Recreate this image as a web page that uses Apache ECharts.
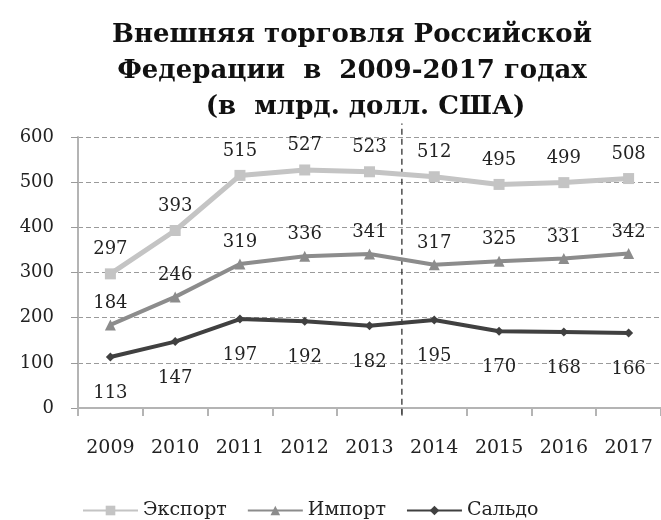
<!DOCTYPE html>
<html>
<head>
<meta charset="utf-8">
<script src="https://cdn.jsdelivr.net/npm/echarts@6/dist/echarts.min.js"></script>
<style>
	html, body {margin:0; padding:0; background:#fff;}
	#chart {width:661px; height:520px;}
</style>
</head>
<body>
<div id="chart"></div>
<script>
var years = ['2009', '2010', '2011', '2012', '2013', '2014', '2015', '2016', '2017'];
var exportVals = [297, 393, 515, 527, 523, 512, 495, 499, 508];
var importVals = [184, 246, 319, 336, 341, 317, 325, 331, 342];
var saldoVals = [113, 147, 197, 192, 182, 195, 170, 168, 166];
var yTicks = [0, 100, 200, 300, 400, 500, 600];
// divider between 2013 and 2014 (x in category units, y in value units)
var dividerPts = [[4.5, -15], [4.5, 630]];

var serifFont = 'DejaVu Serif';

var chart = echarts.init(document.getElementById('chart'));

function lineSeries(name, vals, color, width, symbol, size, pos, dist){
	return {
		name: name,
		type: 'line',
		data: vals,
		symbol: symbol,
		symbolSize: size,
		lineStyle: {color: color, width: width},
		itemStyle: {color: color},
		label: {
			show: true,
			position: pos,
			distance: dist,
			fontFamily: serifFont,
			fontSize: 18,
			color: '#222'
		},
		z: 3
	};
}

var option = {
	animation: false,
	backgroundColor: '#fff',
	title: {
		text: 'Внешняя торговля Российской\nФедерации  в  2009-2017 годах\n   (в  млрд. долл. США)',
		left: 352,
		textAlign: 'center',
		top: 17,
		padding: 0,
		textStyle: {
			fontFamily: serifFont,
			fontWeight: 'bold',
			fontSize: 26,
			lineHeight: 36,
			color: '#111'
		}
	},
	grid: {left: 78, right: -2, top: 137, bottom: 112},
	legend: {
		left: 77,
		top: 496,
		itemWidth: 55,
		itemHeight: 12,
		itemGap: 20,
		textStyle: {fontFamily: serifFont, fontSize: 19, color: '#222'},
		data: ['Экспорт', 'Импорт', 'Сальдо']
	},
	xAxis: [
		{
			type: 'category',
			data: years,
			boundaryGap: true,
			axisLine: {lineStyle: {color: '#b4b4b4', width: 2}},
			axisTick: {show: true, length: 8, lineStyle: {color: '#b4b4b4', width: 2}},
			axisLabel: {fontFamily: serifFont, fontSize: 19, color: '#222', margin: 31}
		},
		{
			// helper axis for the divider, same bands as the category axis
			type: 'value',
			min: -0.5,
			max: years.length - 0.5,
			show: false
		}
	],
	yAxis: {
		type: 'value',
		min: yTicks[0],
		max: yTicks[yTicks.length - 1],
		interval: 100,
		axisLine: {show: true, onZero: false, lineStyle: {color: '#b4b4b4', width: 2}},
		axisTick: {show: true, length: 7, lineStyle: {color: '#9a9a9a'}},
		axisLabel: {fontFamily: serifFont, fontSize: 18, color: '#222', margin: 24},
		splitLine: {lineStyle: {color: '#9a9a9a', type: [5, 3], width: 1}}
	},
	series: [
		{
			name: 'divider',
			type: 'line',
			xAxisIndex: 1,
			data: dividerPts,
			symbol: 'none',
			clip: false,
			silent: true,
			lineStyle: {color: '#222', type: [6, 4], width: 1.2},
			z: 1
		},
		lineSeries('Экспорт', exportVals, '#c4c4c4', 5, 'rect', 11, 'top', 10),
		lineSeries('Импорт', importVals, '#8c8c8c', 4, 'triangle', 11, 'top', 7),
		lineSeries('Сальдо', saldoVals, '#404040', 4, 'diamond', 9, 'bottom', 23)
	]
};

chart.setOption(option);
</script>
</body>
</html>
